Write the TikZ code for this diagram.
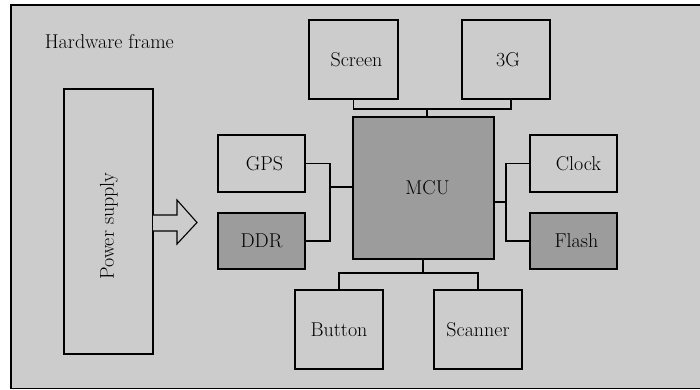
\documentclass[tikz,border=0pt]{standalone}
\usepackage{fontspec}
\usetikzlibrary{calc}
\definecolor{bggray}{HTML}{CCCCCC}
\definecolor{darkbox}{HTML}{9C9C9C}
\begin{document}
\begin{tikzpicture}[x=1pt,y=-1pt,line width=1.1pt,
  every node/.style={font=\fontsize{20}{24}\selectfont},
  box/.style={draw=black,rectangle,inner sep=0pt,line width=1.1pt},
  darkbox/.style={box,fill=darkbox},
  conn/.style={draw=black,line width=1.1pt}]
\useasboundingbox (0,0) rectangle (700,389);
\clip (0,0) rectangle (700,389);
\draw[fill=bggray,line width=1.4pt] (11,5) rectangle (740,388.5);
\node[anchor=base west] (title) at (41,48) {Hardware frame};
% power supply
\node[box,minimum width=89pt,minimum height=265pt] (power) at (108.5,221.5) {};
\node[rotate=90] (ptext) at (109,226) {Power supply};
% arrow
\draw[fill=bggray] (153,215) -- (177,215) -- (177,200) -- (197,222.5) -- (177,244) -- (177,231) -- (153,231);
% boxes
\node[box,minimum width=87pt,minimum height=57pt] (gps) at (261.5,163.5) {\hspace{6pt}GPS};
\node[darkbox,minimum width=87pt,minimum height=56pt] (ddr) at (261.5,241) {DDR};
\node[box,minimum width=89pt,minimum height=79pt] (screen) at (353.5,59.5) {\hspace{6pt}Screen};
\node[box,minimum width=88pt,minimum height=79pt] (g3) at (506,59.5) {\hspace{4pt}3G};
\node[darkbox,minimum width=141pt,minimum height=142pt] (mcu) at (423.5,188) {\hspace{8pt}MCU};
\node[box,minimum width=87pt,minimum height=57pt] (clock) at (573.5,163.5) {\hspace{10pt}Clock};
\node[darkbox,minimum width=87pt,minimum height=56pt] (flash) at (573.5,241) {\hspace{6pt}Flash};
\node[box,minimum width=88pt,minimum height=79pt] (button) at (339,329.5) {Button};
\node[box,minimum width=88pt,minimum height=79pt] (scanner) at (478,329.5) {Scanner};
% connectors
\coordinate (lj) at (330,187);
\draw[conn] (gps.east) -| (lj) |- (ddr.east);
\draw[conn] (lj) -- (lj -| mcu.west);
\coordinate (tj) at (427,109);
\draw[conn] (screen.south) |- (tj) -| ($(g3.south)+(5,0)$);
\draw[conn] (tj) -- (tj |- mcu.north);
\coordinate (rj) at (506,202);
\draw[conn] (clock.west) -| (rj) |- (flash.west);
\draw[conn] (rj) -- (rj -| mcu.east);
\coordinate (bj) at (423,273);
\draw[conn] (button.north) |- (bj) -| (scanner.north);
\draw[conn] (bj) -- (bj |- mcu.south);
\end{tikzpicture}
\end{document}
